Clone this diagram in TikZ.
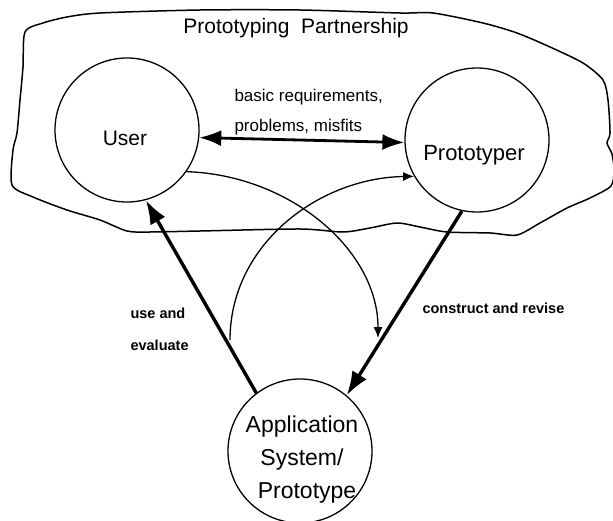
\documentclass[tikz,border=0pt]{standalone}
\usepackage{fontspec}
\setmainfont{Liberation Sans}
\usetikzlibrary{arrows.meta}

\begin{document}
\begin{tikzpicture}[x=1pt,y=-1pt,
  party/.style={circle,draw,line width=1.3pt,minimum size=144pt,inner sep=0pt},
  flow/.style={line width=3.4pt,-{Latex[length=24pt,width=17pt]}},
  talk/.style={line width=2.8pt,{Latex[length=22pt,width=16pt]}-{Latex[length=22pt,width=16pt]}},
  loop/.style={line width=1.3pt,-{Latex[length=11pt,width=9pt]}},
  bigtext/.style={font=\fontsize{21}{25}\selectfont},
  midtext/.style={font=\fontsize{17}{20}\selectfont,anchor=west},
  smalltext/.style={font=\bfseries\fontsize{14.5}{17}\selectfont,anchor=west}]
\useasboundingbox (0,0) rectangle (613,521);

% the partnership boundary
\draw[line width=1.5pt] plot[smooth cycle,tension=0.45] coordinates {
  (25,32) (43,23) (67,17) (100,13) (200,10) (300,10) (400,13) (433,13)
  (483,23) (517,33) (550,47) (583,63) (603,80) (608,100) (610,133)
  (607,143) (612,154) (614,170) (611,186) (590,198) (567,208) (540,223)
  (517,235) (490,233) (447,232) (420,227) (397,223) (370,228) (343,232)
  (300,229) (200,231) (150,232) (127,231) (100,220) (67,210) (33,197)
  (12,185) (13,150) (17,133) (20,100) (23,67)};
\node[bigtext] (title) at (296,28) {Prototyping\ \ Partnership};

% the three parties
\node[party] (u) at (127,130) {};
\node[party] (p) at (477,140) {};
\node[party] (a) at (300,451) {};
\node[bigtext] (ut) at (125,138) {User};
\node[bigtext,font=\fontsize{22}{26}\selectfont] (pt) at (474,155) {Prototyper};
\node[align=center,font=\fontsize{23}{33}\selectfont] (at) at (302,460)
  {Application\\System/\\\hspace*{10pt}Prototype};

% exchange between user and prototyper
\draw[talk] (u.-6) -- (p.182);
\node[midtext] (req) at (231,97) {basic requirements,};
\node[midtext] (prob) at (231,127) {problems, misfits};

% use and evaluate / construct and revise
\draw[flow] (a.127) -- (u.-75);
\draw[flow] (p.-102) -- (a.50);
\node[smalltext] (use) at (127,313) {use and};
\node[smalltext] (eval) at (127,345) {evaluate};
\node[smalltext] (cons) at (419,308) {construct and revise};

% the two crossing cycles
\coordinate (down) at (378,338);
\coordinate (up) at (230,340);
\draw[loop] (u.-35) .. controls (290,175) and (378,250) .. (down);
\draw[loop] (up) .. controls (230,245) and (318,178) .. (p.210);
\end{tikzpicture}
\end{document}
